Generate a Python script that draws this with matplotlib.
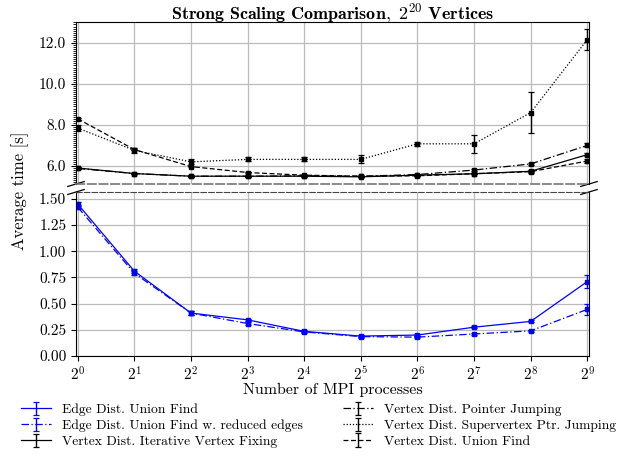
import numpy as np
import matplotlib
matplotlib.use("Agg")
import matplotlib.pyplot as plt
from matplotlib.ticker import MultipleLocator, FixedLocator

plt.rcParams.update({
    "font.family": "serif",
    "font.serif": ["cmr10"],
    "mathtext.fontset": "cm",
    "axes.formatter.use_mathtext": True,
    "font.size": 11,
})

# MPI process counts (2^0 .. 2^9)
exponents = list(range(10))
procs = [2 ** e for e in exponents]

# average times [s] and error bars
edge_uf = [1.45, 0.81, 0.41, 0.345, 0.235, 0.19, 0.20, 0.275, 0.33, 0.71]
edge_uf_err = [0.02, 0.02, 0.015, 0.01, 0.01, 0.01, 0.01, 0.01, 0.01, 0.065]
edge_uf_red = [1.42, 0.79, 0.41, 0.31, 0.23, 0.185, 0.18, 0.21, 0.24, 0.445]
edge_uf_red_err = [0.02, 0.02, 0.015, 0.01, 0.01, 0.01, 0.01, 0.01, 0.01, 0.05]
vtx_iter = [5.9, 5.63, 5.5, 5.5, 5.5, 5.47, 5.55, 5.62, 5.74, 6.55]
vtx_iter_err = [0.04, 0.04, 0.03, 0.03, 0.03, 0.03, 0.03, 0.03, 0.04, 0.08]
vtx_ptr = [5.88, 5.63, 5.5, 5.5, 5.52, 5.5, 5.58, 5.8, 6.1, 7.0]
vtx_ptr_err = [0.04, 0.04, 0.03, 0.03, 0.03, 0.03, 0.03, 0.04, 0.04, 0.1]
vtx_super = [7.85, 6.76, 6.2, 6.32, 6.32, 6.32, 7.08, 7.08, 8.6, 12.16]
vtx_super_err = [0.15, 0.12, 0.12, 0.1, 0.1, 0.2, 0.1, 0.45, 1.0, 0.5]
vtx_uf = [8.3, 6.8, 5.97, 5.68, 5.55, 5.5, 5.52, 5.62, 5.72, 6.24]
vtx_uf_err = [0.04, 0.04, 0.04, 0.03, 0.03, 0.03, 0.03, 0.03, 0.04, 0.1]

series = [
    ("Edge Dist. Union Find", edge_uf, edge_uf_err, "blue", "-"),
    ("Edge Dist. Union Find w. reduced edges", edge_uf_red, edge_uf_red_err, "blue", (0, (6, 2, 1, 2))),
    ("Vertex Dist. Iterative Vertex Fixing", vtx_iter, vtx_iter_err, "black", "-"),
    ("Vertex Dist. Pointer Jumping", vtx_ptr, vtx_ptr_err, "black", (0, (6, 2, 1, 2))),
    ("Vertex Dist. Supervertex Ptr. Jumping", vtx_super, vtx_super_err, "black", (0, (1, 1.5))),
    ("Vertex Dist. Union Find", vtx_uf, vtx_uf_err, "black", (0, (4, 2))),
]

fig = plt.figure(figsize=(6.37, 4.65), dpi=100)
left, right = 0.1193, 0.9246
ax_top = fig.add_axes([left, 0.6043, right - left, 0.9527 - 0.6043])
ax_bot = fig.add_axes([left, 0.2344, right - left, 0.5871 - 0.2344])

handles = []
for label, y, err, color, ls in series:
    for ax in (ax_top, ax_bot):
        h = ax.errorbar(procs, y, yerr=err, color=color, ls=ls, lw=0.9,
                        capsize=2.5, elinewidth=1.0, capthick=0.9, label=label)
        ax.plot(procs, y, ls="none", marker="s", ms=2.2, color=color)
    handles.append(h)

for ax in (ax_top, ax_bot):
    ax.set_xscale("log", base=2)
    ax.set_xlim(2 ** -0.03, 2 ** 9.03)
    ax.xaxis.set_major_locator(FixedLocator(procs))
    ax.xaxis.set_minor_locator(FixedLocator([]))
    ax.grid(True, color="#bbbbbb", lw=0.9)
    ax.set_axisbelow(True)

ax_top.set_ylim(5.12, 13.02)
ax_top.yaxis.set_major_locator(MultipleLocator(2.0))
ax_top.yaxis.set_minor_locator(MultipleLocator(0.1))
ax_top.yaxis.set_major_formatter(plt.FormatStrFormatter("%.1f"))
ax_top.tick_params(axis="x", bottom=False, labelbottom=False)
ax_top.tick_params(axis="y", which="minor", length=2)

ax_bot.set_ylim(0, 1.565)
ax_bot.yaxis.set_major_locator(MultipleLocator(0.25))
ax_bot.yaxis.set_major_formatter(plt.FormatStrFormatter("%.2f"))
ax_bot.xaxis.set_major_formatter(
    plt.FuncFormatter(lambda v, p: r"$2^{%d}$" % round(np.log2(v))))

# broken-axis spines
ax_top.spines["bottom"].set_linestyle((0, (5, 2)))
ax_top.spines["bottom"].set_color("#777777")
ax_top.spines["bottom"].set_linewidth(1.2)
ax_bot.spines["top"].set_linestyle((0, (5, 2)))
ax_bot.spines["top"].set_color("#444444")

d = 0.016
kw = dict(color="black", lw=0.9, clip_on=False)
ax_top.plot([-d, d], [-0.015, 0.015], transform=ax_top.transAxes, **kw)
ax_top.plot([1 - d, 1 + d], [-0.015, 0.015], transform=ax_top.transAxes, **kw)
ax_bot.plot([-d, d], [1 - 0.015, 1 + 0.015], transform=ax_bot.transAxes, **kw)
ax_bot.plot([1 - d, 1 + d], [1 - 0.015, 1 + 0.015], transform=ax_bot.transAxes, **kw)

fig.text((left + right) / 2, 1 - 19 / 465,
         r"$\mathbf{Strong\ Scaling\ Comparison,\ 2^{20}\ Vertices}$",
         fontsize=13, ha="center", va="baseline")
ax_bot.set_xlabel("Number of MPI processes", fontsize=11.5, labelpad=-1)
fig.text(0.032, 0.59, "Average time [s]", rotation=90, va="center", ha="center",
         fontsize=12)

fig.legend(handles=handles, loc="lower center", ncol=2, frameon=False,
           bbox_to_anchor=(0.5, 0.01), fontsize=9.8, handlelength=2.2,
           columnspacing=2.9, labelspacing=0.25)

fig.savefig("out.png", dpi=100)
